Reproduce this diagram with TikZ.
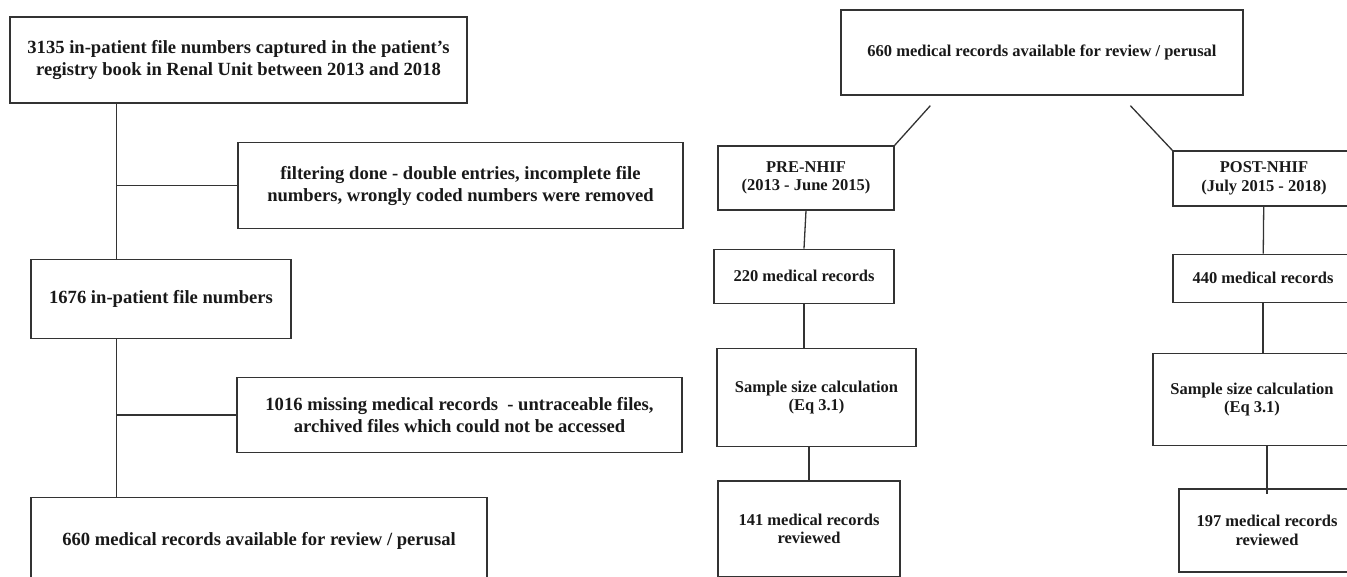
\documentclass[tikz,border=0pt]{standalone}
\usepackage{fontspec}
\setmainfont{Liberation Serif}
\usepackage{tikz}
\usetikzlibrary{positioning,calc}
\tikzset{
  cutie/.style    = {draw=black!80, line width=1.3pt, align=center, inner sep=3pt,
                     text=black!90, font=\bfseries\fontsize{18.6}{22}\selectfont},
  cutiemica/.style = {cutie, font=\bfseries\fontsize{16.5}{18.5}\selectfont},
  legatura/.style = {draw=black!80, line width=1.3pt}
}

\begin{document}
\begin{tikzpicture}
        \useasboundingbox (0,0) rectangle (1347pt,-577pt);
        \clip (0,0) rectangle (1347pt,-577pt);

        % left column: selection of the files
        \node[cutie, minimum width=457pt, minimum height=86pt] (registry) at (238.5pt,-60pt)
            {3135 in-patient file numbers captured in the patient’s\\ registry book in Renal Unit between 2013 and 2018};
        \node[cutie, minimum width=260pt, minimum height=79pt, below=155pt of registry, xshift=-77.5pt] (files)
            {1676 in-patient file numbers};
        \node[cutie, minimum width=456pt, minimum height=86pt, below=158pt of files, xshift=98pt] (avail)
            {660 medical records available for review / perusal};

        \coordinate (split1) at ($(registry.south west)+(107pt,-82pt)$);
        \coordinate (split2) at ($(files.south west)+(86pt,-76pt)$);
        \node[cutie, minimum width=445pt, minimum height=86pt, right=121pt of split1] (filter)
            {filtering done - double entries, incomplete file\\ numbers, wrongly coded numbers were removed};
        \node[cutie, minimum width=445pt, minimum height=75pt, right=120pt of split2] (missing)
            {1016 missing medical records~ - untraceable files,\\ archived files which could not be accessed};

        \draw[legatura] (registry.south -| split1) -- (files.north -| split1);
        \draw[legatura] (split1) -- (filter);
        \draw[legatura] (files.south -| split2) -- (avail.north -| split2);
        \draw[legatura] (split2) -- (missing);

        % right column: pre and post NHIF
        \node[cutiemica, minimum width=402pt, minimum height=85pt] (total) at (1042pt,-52.5pt)
            {660 medical records available for review / perusal};

        \node[cutiemica, minimum width=176pt, minimum height=64pt] (pre) at (806pt,-178pt)
            {PRE-NHIF\\ (2013 - June 2015)};
        \node[cutiemica, minimum width=180pt, minimum height=54pt, below=38pt of pre, xshift=-2pt] (prerec)
            {220 medical records};
        \node[cutiemica, minimum width=199pt, minimum height=98pt, below=44pt of prerec, xshift=12.5pt] (presample)
            {Sample size calculation\\ (Eq 3.1)};
        \node[cutiemica, minimum width=182pt, minimum height=96pt, below=33pt of presample, xshift=-7.5pt] (prerev)
            {141 medical records\\ reviewed};

        \node[cutiemica, minimum width=182pt, minimum height=55pt] (post) at (1264pt,-178.5pt)
            {POST-NHIF\\ (July 2015 - 2018)};
        \node[cutiemica, minimum width=180pt, minimum height=48pt, below=47pt of post, xshift=-1pt] (postrec)
            {440 medical records};
        \node[cutiemica, minimum width=198pt, minimum height=92pt, below=50pt of postrec, xshift=-11pt] (postsample)
            {Sample size calculation\\ (Eq 3.1)};
        \node[cutiemica, minimum width=176pt, minimum height=83pt, below=42pt of postsample, xshift=15pt] (postrev)
            {197 medical records\\ reviewed};

        \draw[legatura] ($(total.south west)+(90pt,-10pt)$) -- (pre.north east);
        \draw[legatura] ($(total.south west)+(290pt,-10pt)$) -- (post.north west);
        \draw[legatura] (pre.south) -- (prerec.north);
        \draw[legatura] (prerec) -- (prerec |- presample.north);
        \draw[legatura] (prerev.north |- presample.south) -- (prerev);
        \draw[legatura] (post) -- (postrec);
        \draw[legatura] (postrec) -- (postrec |- postsample.north);
        \draw[legatura, shorten >=-6pt] (postrev.north |- postsample.south) -- (postrev.north);
    \end{tikzpicture}
\end{document}
